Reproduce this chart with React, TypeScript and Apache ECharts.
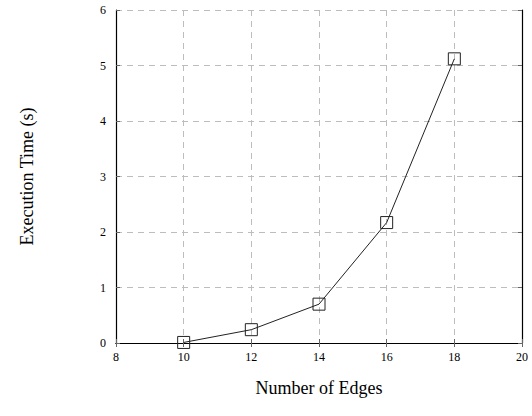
import React, { useEffect, useRef } from "react";
import * as echarts from "echarts";

const edges = [10, 12, 14, 16, 18];
const times = [0.01, 0.24, 0.7, 2.17, 5.12];
const xTicks = [8, 10, 12, 14, 16, 18, 20];
const yTicks = [0, 1, 2, 3, 4, 5, 6];

const FONT = "'Liberation Serif', 'DejaVu Serif', serif";

export default function App() {
  const ref = useRef<HTMLDivElement>(null);
  useEffect(() => {
    if (!ref.current) return;
    const chart = echarts.init(ref.current, undefined, { renderer: "svg" });
    const tickStyle = { show: true, inside: true, length: 4, lineStyle: { color: "#666", width: 1 } };
    const gridStyle = { show: true, lineStyle: { color: "#bdbdbd", type: [6, 5] as any, width: 1 } };
    chart.setOption({
      animation: false,
      grid: { left: 116, right: 10, top: 10, bottom: 73, containLabel: false },
      xAxis: [
        {
          type: "value",
          min: xTicks[0],
          max: xTicks[xTicks.length - 1],
          interval: 2,
          name: "Number of Edges",
          nameLocation: "middle",
          nameGap: 36,
          nameTextStyle: { fontFamily: FONT, fontSize: 18, color: "#000" },
          axisLine: { show: true, onZero: false, lineStyle: { color: "#000", width: 1.2 } },
          axisTick: tickStyle,
          axisLabel: { fontFamily: FONT, fontSize: 12, color: "#000", margin: 8 },
          splitLine: gridStyle,
        },
        {
          type: "value",
          position: "top",
          min: xTicks[0],
          max: xTicks[xTicks.length - 1],
          interval: 2,
          axisLine: { show: true, lineStyle: { color: "#000", width: 1.2 } },
          axisTick: tickStyle,
          axisLabel: { show: false },
          splitLine: { show: false },
        },
      ],
      yAxis: [
        {
          type: "value",
          min: yTicks[0],
          max: yTicks[yTicks.length - 1],
          interval: 1,
          name: "Execution Time (s)",
          nameLocation: "middle",
          nameGap: 80,
          nameRotate: 90,
          nameTextStyle: { fontFamily: FONT, fontSize: 18, color: "#000" },
          axisLine: { show: true, onZero: false, lineStyle: { color: "#000", width: 1.2 } },
          axisTick: tickStyle,
          axisLabel: { fontFamily: FONT, fontSize: 12, color: "#000", margin: 10 },
          splitLine: gridStyle,
        },
        {
          type: "value",
          position: "right",
          min: yTicks[0],
          max: yTicks[yTicks.length - 1],
          interval: 1,
          axisLine: { show: true, lineStyle: { color: "#000", width: 1.2 } },
          axisTick: tickStyle,
          axisLabel: { show: false },
          splitLine: { show: false },
        },
      ],
      series: [
        {
          type: "line",
          data: edges.map((e, i) => [e, times[i]]),
          symbol: "rect",
          symbolSize: 12,
          showAllSymbol: true,
          lineStyle: { color: "#222", width: 1 },
          itemStyle: { color: "rgba(255,255,255,0)", borderColor: "#222", borderWidth: 1 },
          emphasis: { disabled: true },
        },
      ],
    });
    return () => chart.dispose();
  }, []);
  return (
    <div
      ref={ref}
      style={{ position: "fixed", left: 0, top: 0, width: 532, height: 416, background: "#fff" }}
    />
  );
}
